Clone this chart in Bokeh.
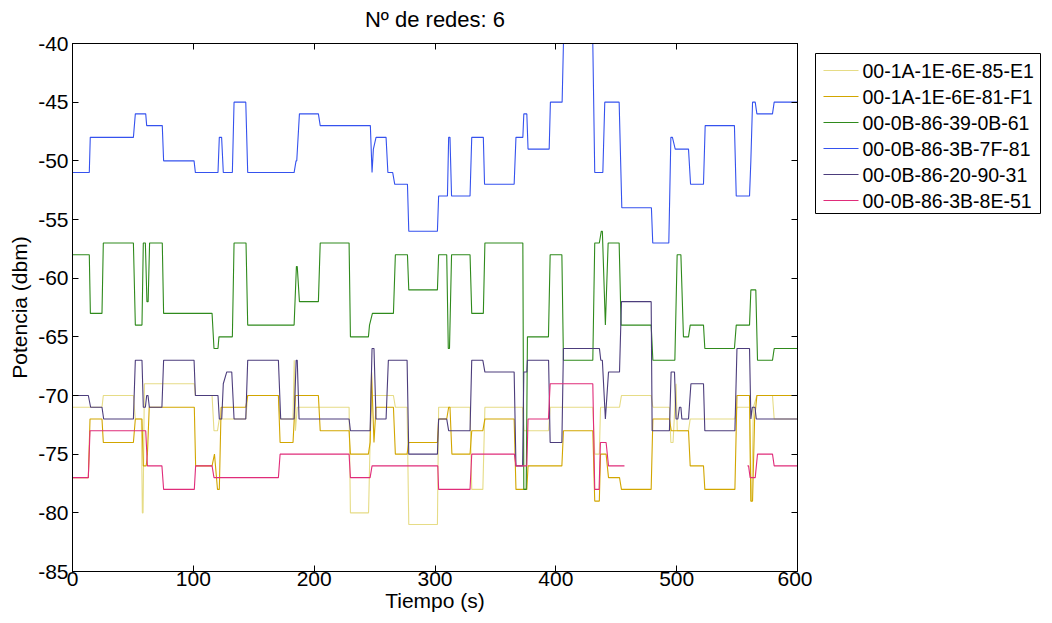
from bokeh.plotting import figure
from bokeh.models import LinearAxis, FixedTicker, Range1d
from bokeh.core.properties import value
from bokeh.layouts import row
from bokeh.embed import file_html
from bokeh.resources import INLINE

# ---------------- data (time s, power dBm) ----------------
names = ["00-1A-1E-6E-85-E1", "00-1A-1E-6E-81-F1", "00-0B-86-39-0B-61",
         "00-0B-86-3B-7F-81", "00-0B-86-20-90-31", "00-0B-86-3B-8E-51"]

pts_85e1 = [(0,-71),(24.4,-71),(25.5,-70),(50.4,-70),(52,-72),(57,-72),(57.8,-80),(58.4,-80),(59.5,-69),
            (100.8,-69),(101.7,-70),(115.5,-70),(117.1,-73),(120,-73),(121.5,-72),(143.4,-72),(145,-70),
            (170.4,-70),(171.8,-72),(182.5,-72),(183.5,-67),(184.5,-73),(186,-71),(228.9,-71),(230,-80),
            (245,-80),(246.5,-73),(248,-70),(265.6,-70),(267.2,-71),(276.9,-71),(278.3,-81),(302,-81),
            (303,-71),(329,-71),(330.4,-78),(339.6,-78),(341.3,-71),(372.5,-71),(373.5,-73),(394,-73),
            (395.3,-71),(430.6,-71),(432.2,-75),(436,-75),(437,-71),(452.7,-71),(454.3,-70),(478.9,-70),
            (480.3,-71),(494,-71),(495.2,-74),(497,-74),(499.5,-69),(500.5,-73),(509.8,-73),(511.2,-72),
            (548.2,-72),(549.9,-71),(560.3,-71),(561.4,-79),(562,-79),(563.5,-71),(566.4,-70),(579.3,-70),
            (580.7,-72),(600,-72)]

pts_81f1 = [(0,-77),(13.1,-77),(14.5,-72),(24.4,-72),(25.5,-74),(50.4,-74),(52,-72),(57.5,-72),(58.6,-76),
            (61,-76),(62,-75),(63.5,-71),(100.8,-71),(101.9,-76),(115.5,-76),(117.5,-75),(120,-78),
            (121.5,-78),(123,-71),(143.4,-71),(145,-70),(170.4,-70),(171.8,-74),(182.5,-74),(184.5,-70),
            (203.5,-70),(205,-73),(228.9,-73),(230,-75),(244.9,-75),(246.3,-74),(247.5,-68),(249.5,-74),
            (251.2,-71),(265.6,-71),(267.2,-75),(276.9,-75),(278.3,-74),(302,-74),(303,-72),(309.7,-72),
            (311.3,-71),(312.4,-71),(314,-75),(329,-75),(330.4,-73),(339.6,-73),(341.3,-72),(365.5,-72),
            (367,-78),(376,-78),(377,-76),(405,-76),(406.3,-73),(430.6,-73),(432.2,-79),(436,-79),(437,-75),
            (441.6,-75),(443.6,-77),(452.7,-77),(454.3,-78),(478.9,-78),(480.3,-72),(494,-72),(495.5,-73),
            (509.8,-73),(511.2,-76),(522.2,-76),(523.3,-78),(548.2,-78),(549.9,-70),(560.3,-70),(561.4,-79),
            (562.8,-79),(564.5,-72),(566.4,-70),(600,-70)]

pts_0b61 = [(0,-58),(13.9,-58),(14.8,-63),(24.4,-63),(25.5,-57),(50.4,-57),(52,-64),(57.5,-64),(58.6,-57),
            (60.3,-57),(61.6,-62),(62.6,-62),(63.8,-57),(74.3,-57),(75.4,-63),(115.5,-63),(117.1,-66),
            (120.4,-66),(121.2,-65),(132.3,-65),(133.7,-57),(143.6,-57),(145,-64),(183.4,-64),(185.3,-59),
            (186,-59),(187.8,-62),(203.5,-62),(205,-57),(228.9,-57),(230,-65),(244.9,-65),(245.8,-64),
            (248.2,-63),(265.6,-63),(267.2,-58),(277.2,-58),(278.3,-61),(302,-61),(303,-58),(309.7,-58),
            (311,-66),(312,-66),(313.7,-58),(329,-58),(330.4,-63),(340,-63),(341.3,-57),(372.7,-57),
            (373.5,-78),(375.5,-78),(376.5,-65),(393.9,-65),(395.3,-58),(405,-58),(406.3,-67),(430.6,-67),
            (432.2,-57),(436,-57),(437.6,-56),(438.5,-56),(441,-64),(443.3,-57),(452.4,-57),(454,-64),
            (478.9,-64),(480.3,-67),(498.5,-67),(500.4,-58),(503.5,-58),(505.6,-65),(509.8,-65),(511.2,-64),
            (522.2,-64),(523.3,-66),(547.8,-66),(549.3,-64),(560.3,-64),(561.4,-61),(565.5,-61),(566.9,-67),
            (579.3,-67),(580.7,-66),(600,-66)]

pts_7f81 = [(0,-51),(13.9,-51),(14.7,-48),(50.4,-48),(52,-46),(60.6,-46),(61.4,-47),(74.3,-47),(75.4,-50),
            (100.6,-50),(101.7,-51),(120.4,-51),(121.5,-48),(123.4,-48),(124.8,-51),(132.3,-51),(133.7,-45),
            (143.4,-45),(145,-51),(183.4,-51),(185,-50),(185.6,-50),(187.8,-46),(203.5,-46),(205,-47),
            (246.5,-47),(247.9,-51),(249,-49),(251.2,-48),(259.5,-48),(261,-51),(265,-51),(266.7,-52),
            (277.2,-52),(278.3,-56),(302,-56),(303,-53),(310.3,-53),(311.3,-48),(312.4,-48),(313.7,-53),
            (329,-53),(330.4,-48),(340,-48),(341,-52),(365.5,-52),(367,-48),(372.7,-48),(373.5,-46),
            (376,-46),(377,-49),(394.5,-49),(395.5,-45),(405.2,-45),(406.3,-40),(430.6,-40),(432.2,-51),
            (438.9,-51),(440.5,-45),(452.4,-45),(454.6,-54),(479.1,-54),(480.2,-57),(493.5,-57),(495.2,-48),
            (496.5,-48),(498.8,-49),(509.8,-49),(511.5,-52),(522.2,-52),(523.6,-47),(547.8,-47),(549.3,-53),
            (560.3,-53),(561.4,-50),(562.8,-45),(565,-45),(566.4,-46),(579.3,-46),(580.7,-45),(600,-45)]

pts_9031 = [(0,-70),(13.1,-70),(15,-71),(24.4,-71),(25.8,-72),(50.4,-72),(52,-67),(57.5,-67),(58.6,-71),
            (60.3,-71),(61.4,-70),(62.5,-70),(63.6,-71),(74,-71),(75.4,-67),(100.6,-67),(101.7,-70),
            (120.4,-70),(121.5,-72),(123.5,-72),(124.8,-69),(127.6,-68),(131.8,-68),(133.7,-72),(143.4,-72),
            (145,-67),(170.4,-67),(172.3,-72),(183.4,-72),(185.1,-67),(186,-67),(187.5,-72),(228.9,-72),
            (230,-73),(246.3,-73),(247.9,-66),(249.5,-66),(251.2,-72),(259.5,-72),(261.4,-67),(276.9,-67),
            (278.3,-75),(302,-75),(303,-72),(309.7,-72),(311.3,-73),(329,-73),(330.4,-67),(339.6,-67),
            (341.3,-68),(365.5,-68),(367,-76),(372.5,-76),(373.5,-68),(376,-68),(376.5,-67),(394,-67),
            (395.3,-74),(405,-74),(406.3,-66),(436.1,-66),(437.2,-67),(438.5,-67),(441,-72),(443.6,-68),
            (452.7,-68),(454.3,-62),(478.9,-62),(479.7,-73),(494,-73),(495.4,-68),(498.2,-68),(499.5,-72),
            (501,-72),(502.3,-71),(503.5,-71),(504.3,-72),(509.8,-72),(511.8,-69),(522.2,-69),(523.3,-73),
            (548.2,-73),(549.9,-66),(560.3,-66),(561.4,-72),(562.6,-71),(564.8,-71),(565.9,-72),(600,-72)]

nan = float("nan")
pts_8e51 = [(0,-77),(13.1,-77),(14.5,-73),(60.6,-73),(62,-76),(74,-76),(75.4,-78),(100.8,-78),(101.9,-76),
            (115.5,-76),(117.1,-77),(170.4,-77),(171.8,-75),(228.9,-75),(230,-77),(246.3,-77),(247.9,-76),
            (302.3,-76),(303,-78),(329,-78),(330.4,-75),(365.7,-75),(367,-76),(376,-76),(377,-72),
            (393.9,-72),(395.3,-69),(430.6,-69),(432.2,-78),(435.8,-78),(436.9,-74),(441.6,-74),(443.6,-76),
            (456.8,-76),(nan,nan),(558.6,-76),(559.5,-76),(560.8,-77),(565,-77),(566.9,-75),(579.3,-75),
            (580.7,-76),(600,-76)]

series = [pts_85e1, pts_81f1, pts_0b61, pts_7f81, pts_9031, pts_8e51]
colors = ["#e6dc86", "#d2a600", "#2f8a1c", "#3552ee", "#4c3d7c", "#e02c7a"]

x_ticks = [0, 100, 200, 300, 400, 500, 600]
y_ticks = [-85, -80, -75, -70, -65, -60, -55, -50, -45, -40]
y_tick_labels = {t: str(t) for t in y_ticks}
title_text = "Nº de redes: 6"

FONT = "Liberation Sans"

# ---------------- main axes ----------------
p = figure(frame_width=725, frame_height=528, output_backend="svg", toolbar_location=None,
           x_range=Range1d(0, 600), y_range=Range1d(-85, -40),
           min_border_left=72, min_border_right=15, min_border_top=43, min_border_bottom=52)
p.grid.visible = False
p.outline_line_color = "black"
p.outline_line_width = 1
p.background_fill_color = "white"
p.border_fill_color = "white"

for ax in (p.xaxis[0], p.yaxis[0]):
    ax.major_tick_in = 6
    ax.major_tick_out = 0
    ax.minor_tick_line_color = None
    ax.axis_line_color = "black"
    ax.major_tick_line_color = "black"
    ax.major_label_text_font = FONT
    ax.major_label_text_font_size = "21px"
    ax.major_label_text_color = "black"
    ax.axis_label_text_font = FONT
    ax.axis_label_text_font_size = "21px"
    ax.axis_label_text_font_style = "normal"
    ax.axis_label_text_color = "black"

p.xaxis[0].ticker = FixedTicker(ticks=x_ticks)
p.yaxis[0].ticker = FixedTicker(ticks=y_ticks)
p.yaxis[0].major_label_overrides = y_tick_labels
p.xaxis[0].axis_label = "Tiempo (s)"
p.yaxis[0].axis_label = "Potencia (dbm)"
p.xaxis[0].axis_label_standoff = 0
p.yaxis[0].axis_label_standoff = 4
p.xaxis[0].major_label_standoff = 0
p.yaxis[0].major_label_standoff = 4

ax_r = LinearAxis(ticker=FixedTicker(ticks=y_ticks), major_tick_in=6, major_tick_out=0,
                  minor_tick_line_color=None, major_label_text_color=None,
                  major_label_text_font_size="1px", major_label_standoff=0)
# top axis: inward ticks, its label carries the chart title
ax_t = LinearAxis(ticker=FixedTicker(ticks=x_ticks), major_tick_in=6, major_tick_out=0,
                  minor_tick_line_color=None, major_label_text_color=None,
                  major_label_text_font_size="1px", major_label_standoff=0,
                  axis_label=title_text, axis_label_text_font=FONT,
                  axis_label_text_font_size="22px", axis_label_text_font_style="normal",
                  axis_label_text_color="black", axis_label_standoff=12)
p.add_layout(ax_r, "right")
p.add_layout(ax_t, "above")

for pts, c in zip(series, colors):
    p.line([a for a, b in pts], [b for a, b in pts], line_color=c, line_width=1.1)

# ---------------- legend panel ----------------
# its frame is aligned with the main frame (page rows 43..571), so the y range is in page pixels
lf = figure(width=240, height=623, output_backend="svg", toolbar_location=None,
            x_range=Range1d(0, 240), y_range=Range1d(571, 43),
            x_axis_type=None, y_axis_type=None, min_border=0)
lf.grid.visible = False
lf.outline_line_color = None
lf.background_fill_color = "white"
lf.border_fill_color = "white"

box_left, box_right, box_top, box_bottom = 3, 228, 53, 213
row_y = [70 + 26 * i for i in range(len(names))]
lf.quad(left=box_left, right=box_right, top=box_top, bottom=box_bottom,
        fill_color="white", line_color="black", line_width=1)
lf.segment(x0=[11] * len(names), x1=[46] * len(names), y0=row_y, y1=row_y,
           line_color=colors, line_width=1.1)
lf.text(x=[50] * len(names), y=row_y, text=names, text_baseline="middle", text_align="left",
        text_font=value(FONT), text_font_size="19.5px", text_color="black")

open("out.html", "w").write(file_html(row(p, lf), INLINE))
